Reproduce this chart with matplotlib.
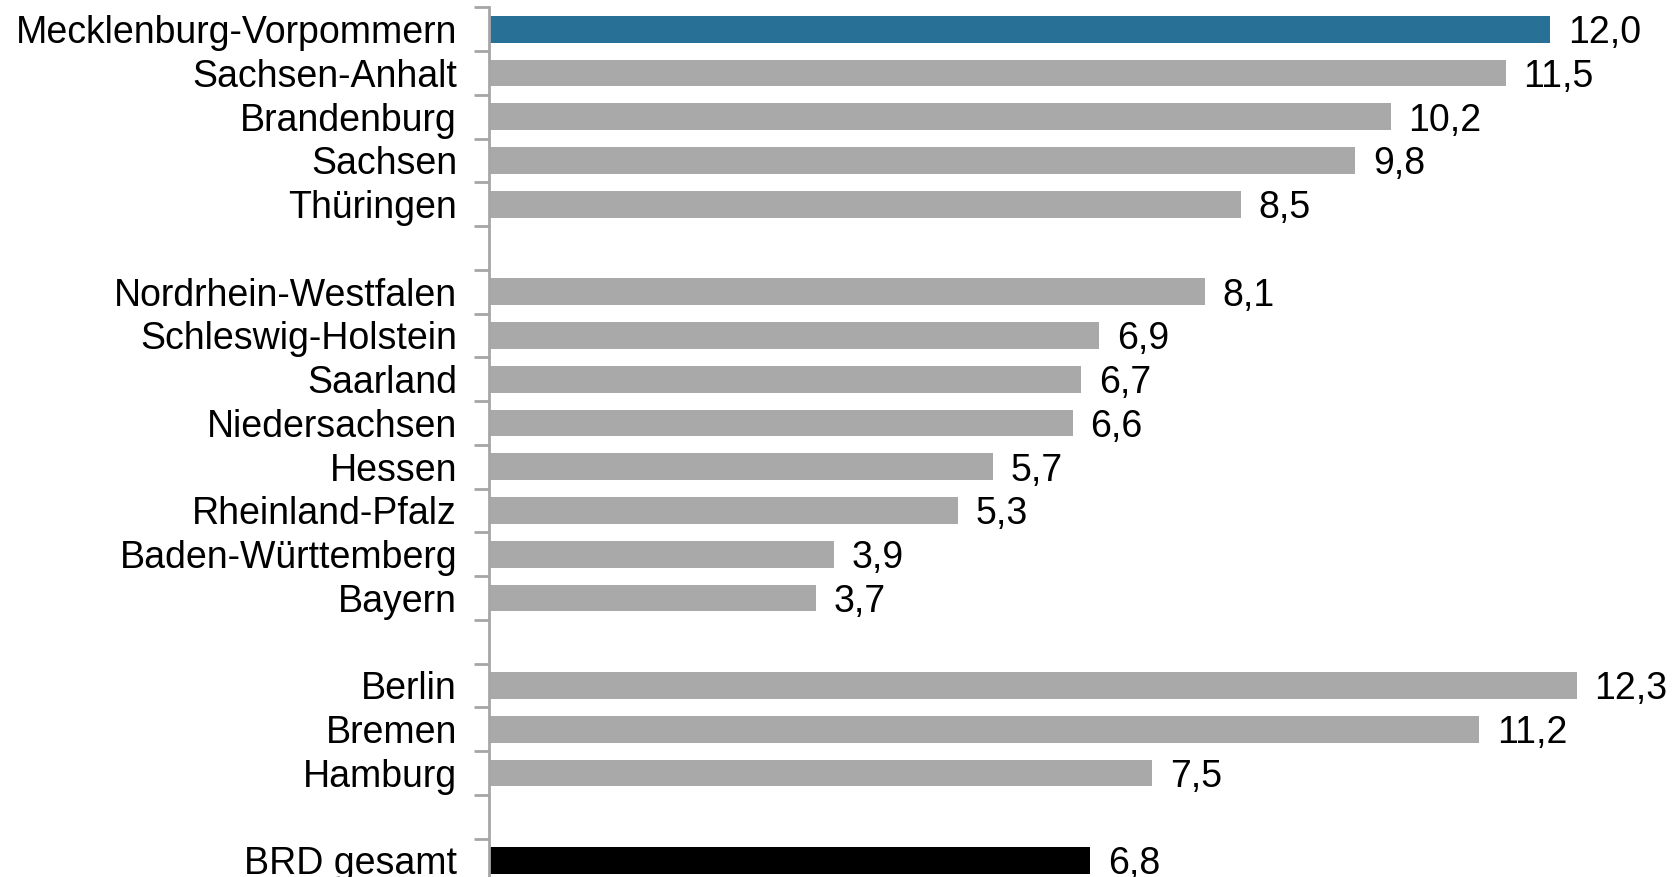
import matplotlib
matplotlib.use("Agg")
import matplotlib.pyplot as plt
import numpy as np

plt.rcParams['font.family'] = ['Liberation Sans', 'DejaVu Sans']

laender = ['Mecklenburg-Vorpommern', 'Sachsen-Anhalt', 'Brandenburg', 'Sachsen', 'Thüringen',
           'Nordrhein-Westfalen', 'Schleswig-Holstein', 'Saarland', 'Niedersachsen', 'Hessen',
           'Rheinland-Pfalz', 'Baden-Württemberg', 'Bayern',
           'Berlin', 'Bremen', 'Hamburg',
           'BRD gesamt']
werte = [12.0, 11.5, 10.2, 9.8, 8.5,
         8.1, 6.9, 6.7, 6.6, 5.7, 5.3, 3.9, 3.7,
         12.3, 11.2, 7.5,
         6.8]
# group sizes, one empty slot between groups
gruppen = [5, 8, 3, 1]

pos = []
p = 0
for g in gruppen:
    for i in range(g):
        pos.append(p)
        p += 1
    p += 1
n_slots = p - 1

farben = ['#A9A9A9'] * len(werte)
farben[0] = '#287096'
farben[-1] = '#000000'

fig = plt.figure(figsize=(16.72, 8.77), dpi=100)
ax = fig.add_axes([489/1672, 1 - 882.3/877, 1 - 489/1672, 875/877])

ax.barh(pos, werte, height=0.61, color=farben)
for y, v in zip(pos, werte):
    ax.text(v + 0.2, y, ('%.1f' % v).replace('.', ','), va='center_baseline', ha='left', fontsize=27)

ax.set_xlim(0, 13.38)
ax.set_ylim(n_slots - 0.5, -0.5)
ax.set_yticks(pos)
ax.set_yticklabels(laender, fontsize=27)
ax.set_yticks(np.arange(-0.5, n_slots, 1), minor=True)
ax.tick_params(axis='y', which='major', length=0, pad=23)
ax.tick_params(axis='y', which='minor', length=11, width=2, color='#A6A6A6')
ax.set_xticks([])
for s in ['top', 'right', 'bottom']:
    ax.spines[s].set_visible(False)
ax.spines['left'].set_color('#A6A6A6')
ax.spines['left'].set_linewidth(2)

fig.savefig('out.png', dpi=100)
